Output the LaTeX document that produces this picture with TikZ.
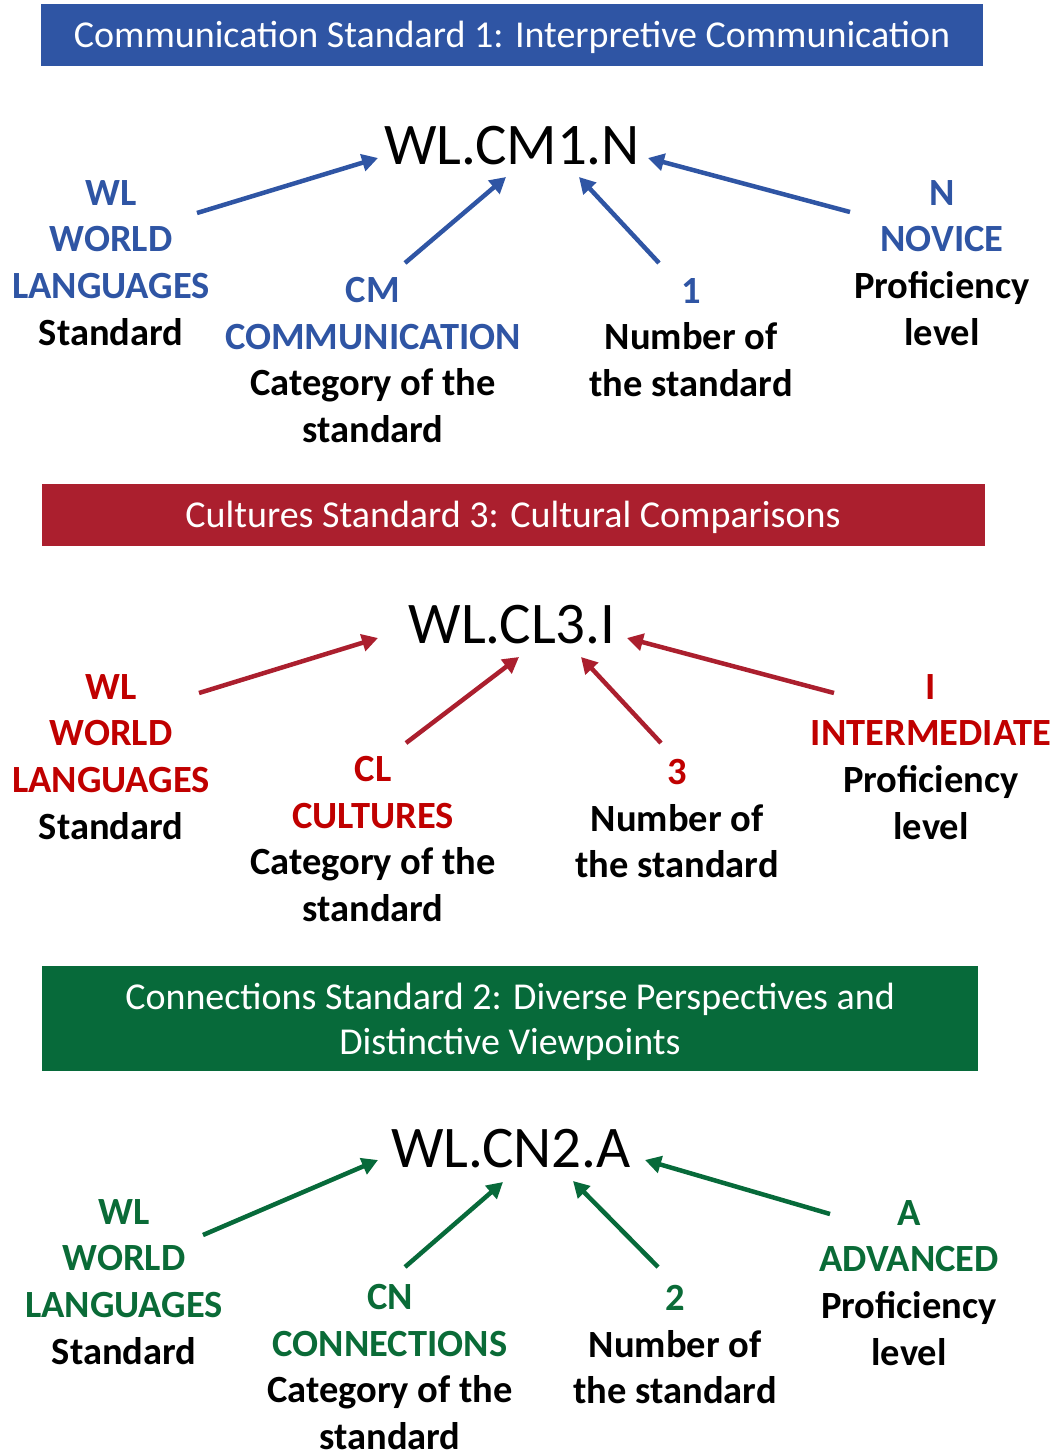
\documentclass[tikz,border=0pt]{standalone}
\usepackage{fontspec}
\setmainfont{Carlito}
\usetikzlibrary{arrows.meta}
\definecolor{bluebar}{HTML}{2F55A4}
\definecolor{bluetxt}{HTML}{2F55A4}
\definecolor{redbar}{HTML}{AB1F2E}
\definecolor{redtxt}{HTML}{C00000}
\definecolor{greenbar}{HTML}{076A3A}
\definecolor{greentxt}{HTML}{0A6B37}
\tikzset{
  banner/.style={inner sep=0pt, text=white, align=center,
    font=\fontsize{38}{45.5}\selectfont},
  codetxt/.style={anchor=base, inner sep=0pt, font=\fontsize{59}{60}\selectfont},
  lbl/.style={anchor=north, inner sep=0pt, align=center,
    font=\fontsize{38.5}{46.7}\selectfont\bfseries},
  arr/.style={line width=4.5pt, -{Triangle[length=16pt,width=17pt]}},
}
\begin{document}
\begin{tikzpicture}[x=1pt,y=-1pt]
\useasboundingbox (0,0) rectangle (1055,1450);

% ---------- Section 1 ----------
\fill[bluebar] (41,4) rectangle (983,66);
\node[banner] (ban1) at (512,37) {Communication Standard 1: Interpretive Communication};
\node[codetxt] (code1) at (512,165) {WL.CM1.N};
\node[lbl] (wl1) at (111,180) {\textcolor{bluetxt}{WL}\\\textcolor{bluetxt}{WORLD}\\\textcolor{bluetxt}{LANGUAGES}\\Standard};
\node[lbl] (cm1) at (373,277) {\textcolor{bluetxt}{CM}\\\textcolor{bluetxt}{COMMUNICATION}\\Category of the\\standard};
\node[lbl] (num1) at (691,278) {\textcolor{bluetxt}{1}\\Number of\\the standard};
\node[lbl] (lev1) at (942,180) {\textcolor{bluetxt}{N}\\\textcolor{bluetxt}{NOVICE}\\Proficiency\\level};
\coordinate (wl1t) at (197,213);  \coordinate (wl1h) at (378,158);
\coordinate (cm1t) at (405,263);  \coordinate (cm1h) at (506,177);
\coordinate (num1t) at (659,263); \coordinate (num1h) at (579,177);
\coordinate (lev1t) at (850,212); \coordinate (lev1h) at (648,158);
\draw[arr, bluebar] (wl1t) -- (wl1h);
\draw[arr, bluebar] (cm1t) -- (cm1h);
\draw[arr, bluebar] (num1t) -- (num1h);
\draw[arr, bluebar] (lev1t) -- (lev1h);

% ---------- Section 2 ----------
\fill[redbar] (42,484) rectangle (985,546);
\node[banner] (ban2) at (513,517) {Cultures Standard 3: Cultural Comparisons};
\node[codetxt] (code2) at (512,643) {WL.CL3.I};
\node[lbl] (wl2) at (111,674) {\textcolor{redtxt}{WL}\\\textcolor{redtxt}{WORLD}\\\textcolor{redtxt}{LANGUAGES}\\Standard};
\node[lbl] (cl2) at (373,756) {\textcolor{redtxt}{CL}\\\textcolor{redtxt}{CULTURES}\\Category of the\\standard};
\node[lbl] (num2) at (677,759) {\textcolor{redtxt}{3}\\Number of\\the standard};
\node[lbl] (lev2) at (931,674) {\textcolor{redtxt}{I}\\\textcolor{redtxt}{INTERMEDIATE}\\Proficiency\\level};
\coordinate (wl2t) at (199,693);  \coordinate (wl2h) at (378,638);
\coordinate (cl2t) at (406,743);  \coordinate (cl2h) at (519,657);
\coordinate (num2t) at (661,743); \coordinate (num2h) at (581,657);
\coordinate (lev2t) at (834,693); \coordinate (lev2h) at (627,638);
\draw[arr, redbar] (wl2t) -- (wl2h);
\draw[arr, redbar] (cl2t) -- (cl2h);
\draw[arr, redbar] (num2t) -- (num2h);
\draw[arr, redbar] (lev2t) -- (lev2h);

% ---------- Section 3 ----------
\fill[greenbar] (42,966) rectangle (978,1071);
\node[banner] (ban3) at (510,1022) {Connections Standard 2: Diverse Perspectives and\\Distinctive Viewpoints};
\node[codetxt] (code3) at (511,1167) {WL.CN2.A};
\node[lbl] (wl3) at (124,1199) {\textcolor{greentxt}{WL}\\\textcolor{greentxt}{WORLD}\\\textcolor{greentxt}{LANGUAGES}\\Standard};
\node[lbl] (cn3) at (390,1284) {\textcolor{greentxt}{CN}\\\textcolor{greentxt}{CONNECTIONS}\\Category of the\\standard};
\node[lbl] (num3) at (675,1285) {\textcolor{greentxt}{2}\\Number of\\the standard};
\node[lbl] (lev3) at (909,1200) {\textcolor{greentxt}{A}\\\textcolor{greentxt}{ADVANCED}\\Proficiency\\level};
\coordinate (wl3t) at (203,1235);  \coordinate (wl3h) at (378,1160);
\coordinate (cn3t) at (405,1267);  \coordinate (cn3h) at (503,1182);
\coordinate (num3t) at (658,1267); \coordinate (num3h) at (573,1181);
\coordinate (lev3t) at (830,1214); \coordinate (lev3h) at (645,1160);
\draw[arr, greenbar] (wl3t) -- (wl3h);
\draw[arr, greenbar] (cn3t) -- (cn3h);
\draw[arr, greenbar] (num3t) -- (num3h);
\draw[arr, greenbar] (lev3t) -- (lev3h);
\end{tikzpicture}
\end{document}
